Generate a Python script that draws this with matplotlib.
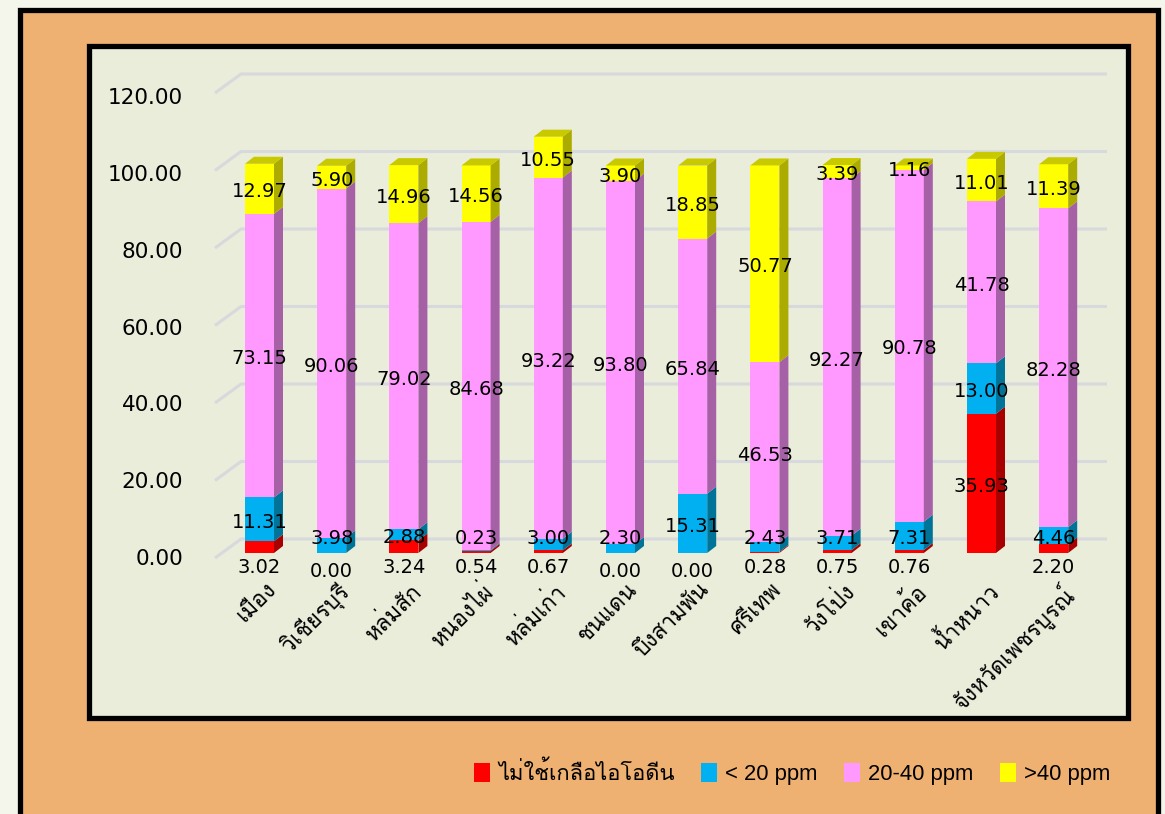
import matplotlib
matplotlib.use("Agg")
import matplotlib.pyplot as plt
from matplotlib import font_manager
from matplotlib.ft2font import FT2Font
from matplotlib.patches import Rectangle, Polygon, Patch

# --- data ---
districts = ["เมือง", "วิเชียรบุรี", "หล่มสัก", "หนองไผ่", "หล่มเก่า", "ชนแดน",
             "บึงสามพัน", "ศรีเทพ", "วังโป่ง", "เขาค้อ", "น้ำหนาว", "จังหวัดเพชรบูรณ์"]
non_iodized = [3.02, 0.00, 3.24, 0.54, 0.67, 0.00, 0.00, 0.28, 0.75, 0.76, 35.93, 2.20]
below_20 = [11.31, 3.98, 2.88, 0.23, 3.00, 2.30, 15.31, 2.43, 3.71, 7.31, 13.00, 4.46]
ppm_20_40 = [73.15, 90.06, 79.02, 84.68, 93.22, 93.80, 65.84, 46.53, 92.27, 90.78, 41.78, 82.28]
above_40 = [12.97, 5.90, 14.96, 14.56, 10.55, 3.90, 18.85, 50.77, 3.39, 1.16, 11.01, 11.39]
series_names = ["ไม่ใช้เกลือไอโอดีน", "< 20 ppm", "20-40 ppm", ">40 ppm"]
y_ticks = [0, 20, 40, 60, 80, 100, 120]


def find_font(ch):
    for f in font_manager.fontManager.ttflist:
        try:
            if ord(ch) in FT2Font(f.fname).get_charmap():
                return f.name
        except Exception:
            pass
    return None


thai_font = find_font("ก") or "DejaVu Sans"
plt.rcParams["font.family"] = ["DejaVu Sans", thai_font]

W, H = 1165, 814
fig = plt.figure(figsize=(W / 100, H / 100), dpi=100, facecolor="#F4F6EC")

# frames (pixel coords -> figure fraction)
def px_rect(x0, y0, x1, y1, **kw):
    r = Rectangle((x0 / W, 1 - y1 / H), (x1 - x0) / W, (y1 - y0) / H,
                  transform=fig.transFigure, **kw)
    fig.patches.append(r)

px_rect(19.5, 10, 1157.5, 830, fc="#EFB172", ec="black", lw=3.8, zorder=-2)
px_rect(88.5, 45.5, 1127.5, 717.5, fc="#E9EDDA", ec="black", lw=3.8, zorder=-1)

# axes: data space = front face of the bars
ax_l, ax_r, ax_b, ax_t = 215, 1107, 553, 88
ax = fig.add_axes([ax_l / W, 1 - ax_b / H, (ax_r - ax_l) / W, (ax_b - ax_t) / H])
ax.set_zorder(2)
ax.set_facecolor("none")
ax.axis("off")
xpx = 72.2                      # px per category
ypx = (ax_b - ax_t) / 120.0     # px per unit
xmin = -(259.5 - ax_l) / xpx
xmax = xmin + (ax_r - ax_l) / xpx
ax.set_xlim(xmin, xmax)
ax.set_ylim(0, 120)

# back-wall gridlines with a slanted side-wall part
front_dy = 5 / ypx
back_dy = 14 / ypx
back_dx = 26 / xpx
for v in y_ticks:
    ax.plot([xmin, xmin + back_dx, xmax], [v - front_dy, v + back_dy, v + back_dy],
            color="#D7D9DD", lw=2.2, clip_on=False, zorder=1, solid_capstyle="butt")
    ax.text(xmin - 32 / xpx, v * 0.992 - front_dy - 0.3, f"{v:.2f}", ha="right", va="center",
            fontsize=15.5, clip_on=False)

# 3D columns
series = [non_iodized, below_20, ppm_20_40, above_40]
fronts = ["#FF0000", "#00B0F0", "#FF99FF", "#FFFF00"]
sides = ["#A80000", "#007498", "#A560A6", "#ABAB00"]
tops = ["#C80000", "#0090C0", "#CC7ACC", "#C9C900"]
bw = 29 / xpx
ddx, ddy = 9 / xpx, 7 / ypx
xs = list(range(len(districts)))

bottoms = [0.0] * len(xs)
for k, vals in enumerate(series):
    ax.bar(xs, vals, width=bw, bottom=bottoms, color=fronts[k], zorder=3)
    for i, v in enumerate(vals):
        if v <= 0:
            continue
        b = bottoms[i]
        xr = i + bw / 2
        ax.add_patch(Polygon([(xr, b), (xr + ddx, b + ddy), (xr + ddx, b + v + ddy), (xr, b + v)],
                             closed=True, fc=sides[k], ec="none", zorder=3))
    bottoms = [b + v for b, v in zip(bottoms, vals)]

# top faces
for i in xs:
    top_k = max(k for k in range(4) if series[k][i] > 0)
    t = bottoms[i]
    xl, xr = i - bw / 2, i + bw / 2
    ax.add_patch(Polygon([(xl, t), (xl + ddx, t + ddy), (xr + ddx, t + ddy), (xr, t)],
                         closed=True, fc=tops[top_k], ec="none", zorder=3))

# data labels
lab_fs = 14
cum = [0.0] * len(xs)
for k, vals in enumerate(series):
    for i, v in enumerate(vals):
        center = cum[i] + v / 2 - 0.8
        if k == 0:
            y = center if v > 10 else (-3.7 if v > 0 else -4.8)
        elif k == 1:
            y = center if v > 6 else max(center, 3.8)
        else:
            y = center
        ax.text(i, y, f"{v:.2f}", ha="center", va="center", fontsize=lab_fs,
                zorder=5, clip_on=False)
    cum = [c + v for c, v in zip(cum, vals)]

# category labels
for i, name in enumerate(districts):
    ax.text(i + 0.08, -6.8, name, rotation=45, ha="right", va="top",
            rotation_mode="anchor", fontsize=16, family=[thai_font, "DejaVu Sans"],
            clip_on=False)

# legend
handles = [Patch(fc=c, ec="none") for c in fronts]
fig.legend(handles, series_names, loc="center", bbox_to_anchor=(792 / W, 1 - 773 / H),
           ncol=4, frameon=False, handlelength=0.75, handleheight=0.95,
           handletextpad=0.35, columnspacing=1.2,
           prop={"family": ["Liberation Sans", thai_font], "size": 15.8})

fig.savefig("out.png", dpi=100, facecolor=fig.get_facecolor())
